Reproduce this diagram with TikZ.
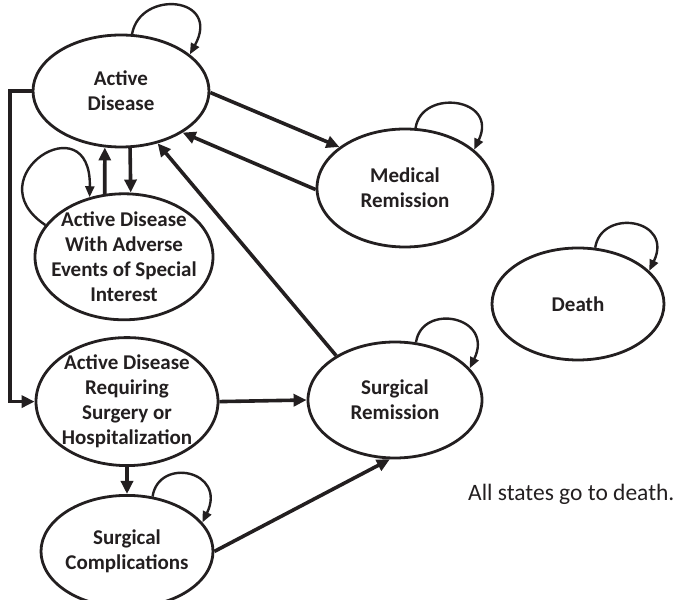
\documentclass[tikz,border=0pt]{standalone}
\usepackage{fontspec}
\setmainfont{Carlito}
\usetikzlibrary{positioning,arrows.meta,shapes.geometric}
\definecolor{ink}{RGB}{35,31,32}
\tikzset{
  hstate/.style 2 args={ellipse,draw=ink,line width=2.8pt,inner sep=0pt,
    minimum width=#1,minimum height=#2},
  lbl/.style={align=center,text=ink,inner sep=0pt,font=\fontsize{21}{25}\selectfont\bfseries},
  flow/.style={-{Triangle[length=13pt,width=12pt]},line width=3.6pt,draw=ink},
  selfloop/.style={-{Triangle[length=11pt,width=9pt]},line width=2.4pt,draw=ink},
}

\begin{document}
\begin{tikzpicture}[x=1pt,y=1pt]
  \useasboundingbox (0,0) rectangle (678,600);
  % left column
  \node[hstate={176pt}{112pt},label={[lbl]center:{Active\\Disease}}] (ad) at (121,509) {};
  \node[hstate={178pt}{126pt},below=44pt of ad,xshift=3pt,
    label={[lbl]center:{Active Disease\\With Adverse\\Events of Special\\Interest}}] (adae) {};
  \node[hstate={182pt}{128pt},below=15pt of adae,xshift=3pt,
    label={[lbl]center:{Active Disease\\Requiring\\Surgery or\\Hospitalization}}] (adsurg) {};
  \node[hstate={172pt}{112pt},below=27pt of adsurg,
    label={[lbl]center:{Surgical\\Complications}}] (surgcomp) {};
  % right side
  \node[hstate={176pt}{118pt},label={[lbl]center:{Medical\\Remission}}] (medrem) at (405,412) {};
  \node[hstate={174pt}{116pt},label={[lbl]center:{Surgical\\Remission}}] (surgrem) at (395,200) {};
  \node[hstate={172pt}{112pt},label={[lbl]center:Death}] (death) at (578,296) {};
  \node[anchor=base west,inner sep=0pt,text=ink,font=\fontsize{23.5}{28}\selectfont] (note) at (468,99) {All states go to death.};
  \coordinate (lft) at (10,0);

  \draw[flow] (ad.-1) -- (medrem.148);
  \draw[flow] (medrem.181) -- (ad.-34);
  \draw[flow] (surgrem.143) -- (ad.-55);
  \draw[flow] (adae.107) -- (ad.-106);
  \draw[flow] (ad.-81) -- (adae.84);
  \draw[flow] (ad.west) -- (ad.west -| lft) |- (adsurg.west);
  \draw[flow] (adsurg.east) -- (surgrem.west);
  \draw[flow] (adsurg.south) -- (surgcomp.north);
  \draw[flow] (surgcomp.east) -- (surgrem.-95);

  % self loops
  \draw[selfloop] (ad.79) .. controls +(8,45) and +(32,58) .. (ad.28);
  \draw[selfloop] (adae.158) .. controls +(-72,48) and +(2,96) .. (adae.120);
  \draw[selfloop] (medrem.80) .. controls +(6,40) and +(25,52) .. (medrem.29);
  \draw[selfloop] (death.73) .. controls +(6,40) and +(25,52) .. (death.25);
  \draw[selfloop] (surgrem.70) .. controls +(6,40) and +(25,52) .. (surgrem.23);
  \draw[selfloop] (surgcomp.65) .. controls +(6,40) and +(25,52) .. (surgcomp.21);
\end{tikzpicture}
\end{document}
